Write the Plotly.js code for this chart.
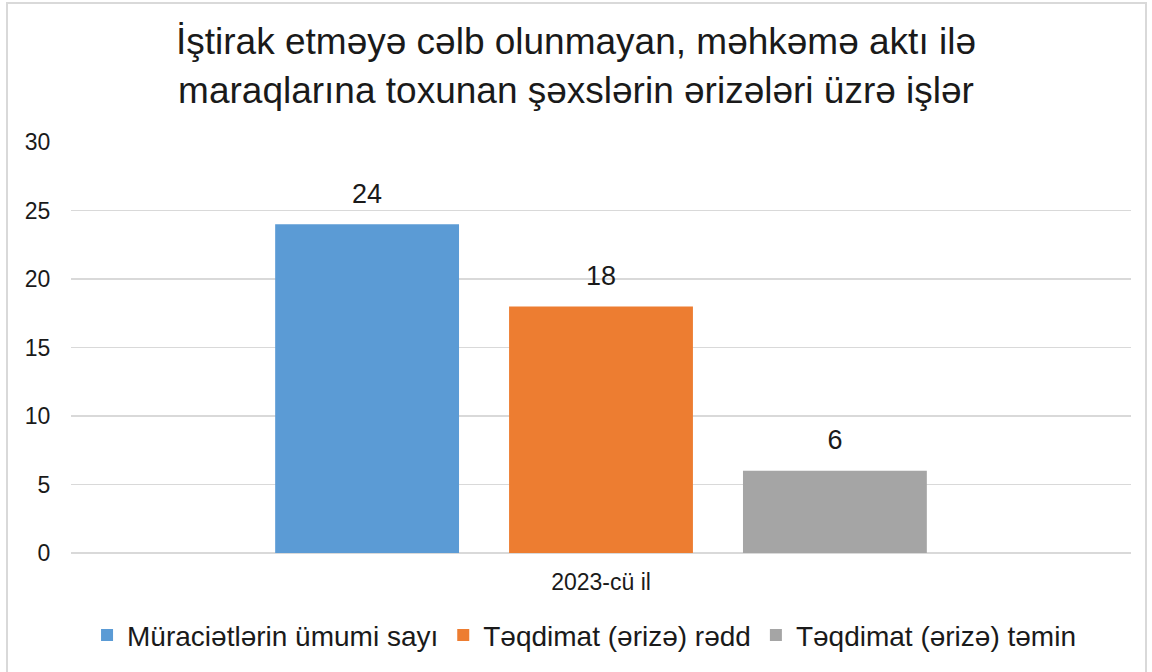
<!DOCTYPE html>
<html>
<head>
<meta charset="utf-8">
<script src="https://cdn.plot.ly/plotly-3.0.1.min.js"></script>
<style>
body{margin:0;padding:0;background:#fff;}
#wrap{position:relative;width:1152px;height:672px;}
#chart{width:1152px;height:672px;}
#frame{position:absolute;left:6px;top:2px;width:1141px;height:672px;border:2px solid #d9d9d9;box-sizing:border-box;pointer-events:none;}
</style>
</head>
<body>
<div id="wrap"><div id="chart"></div><div id="frame"></div></div>
<script>
const categories = ["2023-cü il"];
const seriesNames = ["Müraciətlərin ümumi sayı", "Təqdimat (ərizə) rədd", "Təqdimat (ərizə) təmin"];
const seriesValues = [[24], [18], [6]];
const seriesColors = ["#5B9BD5", "#ED7D31", "#A5A5A5"];
const yTicks = [0, 5, 10, 15, 20, 25, 30];

const font = "Liberation Sans, Arial, sans-serif";
const barTraces = seriesNames.map((name, i) => ({
  type: "bar",
  name: name,
  x: categories,
  y: seriesValues[i],
  marker: {color: seriesColors[i]},
  hoverinfo: "skip"
}));
const labelTraces = seriesNames.map((name, i) => ({
  type: "scatter",
  mode: "markers+text",
  name: name + " label",
  showlegend: false,
  x: categories,
  y: seriesValues[i],
  marker: {size: 22, opacity: 0, color: seriesColors[i]},
  text: seriesValues[i].map(String),
  textposition: "top center",
  textfont: {family: font, size: 27, color: "#1a1a1a"},
  cliponaxis: false,
  hoverinfo: "skip"
}));

const layout = {
  width: 1152, height: 672,
  margin: {l: 71, r: 21, t: 142, b: 119},
  paper_bgcolor: "#fff", plot_bgcolor: "#fff",
  title: {
    text: "İştirak etməyə cəlb olunmayan, məhkəmə aktı ilə<br>maraqlarına toxunan şəxslərin ərizələri üzrə işlər",
    font: {family: font, size: 37, color: "#1a1a1a"},
    x: 0.5, xanchor: "center", y: 0.919, yanchor: "top"
  },
  barmode: "group",
  bargap: 0.338,
  bargroupgap: 0.214,
  scattermode: "group",
  scattergap: 0.338,
  showlegend: true,
  legend: {
    orientation: "h", x: 0.484, xanchor: "center", y: -0.2, yanchor: "middle",
    font: {family: font, size: 28, color: "#1a1a1a"},
    itemsizing: "constant", traceorder: "normal", itemwidth: 30
  },
  xaxis: {
    type: "category",
    tickfont: {family: font, size: 23, color: "#1a1a1a"},
    showline: false, ticks: "outside", ticklen: 8, tickcolor: "rgba(0,0,0,0)", showgrid: false
  },
  yaxis: {
    range: [0, 30],
    tickvals: yTicks,
    tickfont: {family: font, size: 23, color: "#1a1a1a"},
    showgrid: true, gridcolor: "#d9d9d9", gridwidth: 1.5,
    zeroline: true, zerolinecolor: "#d9d9d9", zerolinewidth: 1.5,
    showline: false, ticks: "outside", ticklen: 15, tickcolor: "rgba(0,0,0,0)"
  }
};

Plotly.newPlot("chart", barTraces.concat(labelTraces), layout, {displayModeBar: false, staticPlot: true});
</script>
</body>
</html>
